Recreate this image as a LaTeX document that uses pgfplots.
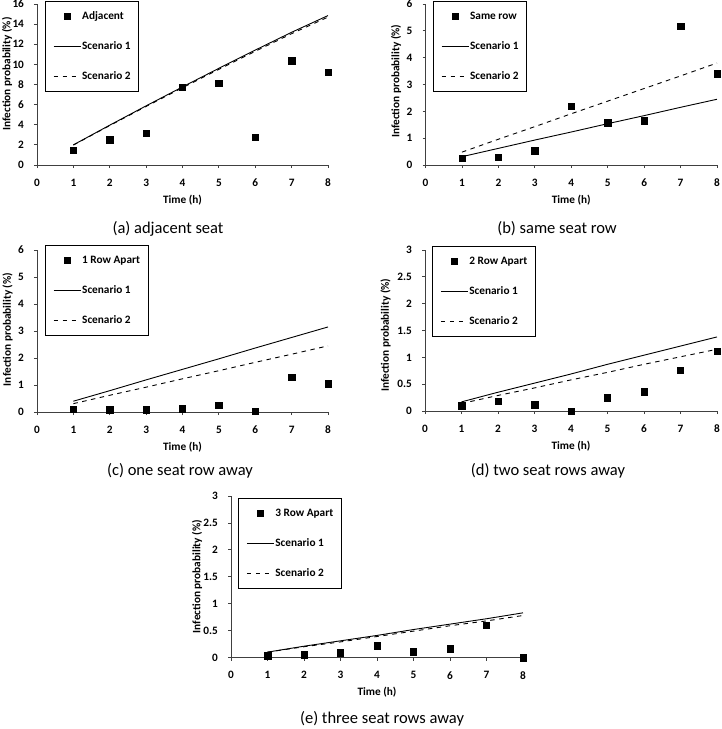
\documentclass[border=0pt]{standalone}
\usepackage{fontspec}
\setmainfont{Carlito}
\usepackage{pgfplots}
\usepackage{pgfplotstable}
\pgfplotsset{compat=1.18}

% t = time (h), obs = observed, s1/s2 = scenario 1/2
\pgfplotstableread{
t obs s1 s2
1 1.45 2.00 1.98
2 2.50 3.96 3.92
3 3.15 5.88 5.82
4 7.75 7.76 7.68
5 8.15 9.61 9.51
6 2.75 11.42 11.30
7 10.35 13.19 13.05
8 9.25 14.85 14.70
}\adjacent
\pgfplotstableread{
t obs s1 s2
1 0.25 0.31 0.48
2 0.28 0.62 0.96
3 0.53 0.93 1.43
4 2.20 1.23 1.91
5 1.57 1.54 2.38
6 1.65 1.84 2.85
7 5.17 2.15 3.32
8 3.40 2.45 3.80
}\samerow
\pgfplotstableread{
t obs s1 s2
1 0.10 0.40 0.31
2 0.08 0.79 0.62
3 0.08 1.19 0.92
4 0.12 1.58 1.23
5 0.26 1.97 1.53
6 0.02 2.37 1.84
7 1.30 2.76 2.14
8 1.05 3.15 2.45
}\rowone
\pgfplotstableread{
t obs s1 s2
1 0.10 0.17 0.14
2 0.18 0.35 0.29
3 0.12 0.52 0.43
4 0.00 0.69 0.58
5 0.25 0.87 0.72
6 0.36 1.04 0.87
7 0.76 1.21 1.01
8 1.12 1.38 1.15
}\rowtwo
\pgfplotstableread{
t obs s1 s2
1 0.03 0.10 0.10
2 0.05 0.21 0.20
3 0.09 0.31 0.29
4 0.22 0.41 0.39
5 0.11 0.52 0.49
6 0.16 0.62 0.59
7 0.60 0.72 0.68
8 0.00 0.83 0.78
}\rowthree

\newcommand\lblfont{\fontsize{11.3}{13}\selectfont\bfseries}

\pgfplotsset{
  panel/.style={
    scale only axis, anchor=south west,
    xmin=0, xmax=8, ymin=0,
    xtick={0,...,8},
    axis x line*=bottom, axis y line*=left,
    axis line style={-, black!75, line width=0.8pt},
    tick align=outside, major tick length=3pt,
    tick style={black!75, line width=0.8pt},
    clip=false,
    /pgf/number format/assume math mode=true,
    tick label style={font=\lblfont},
    xticklabel style={yshift=-7.5pt},
    yticklabel style={xshift=-6.5pt},
    label style={font=\lblfont},
    xlabel={Time (h)},
    xlabel style={yshift=-1pt},
    ylabel={Infection probability (\%)},
    legend cell align=left,
    legend style={draw=black, line width=0.8pt, fill=white, anchor=north west,
      inner xsep=8pt, inner ysep=9.75pt, row sep=19.5pt,
      /tikz/column sep=1pt,
      nodes={inner sep=0pt, text height=8pt, text depth=2.5pt, font=\lblfont}},
  },
  ylab/.style 2 args={ylabel style={at={(axis description cs:#1,#2)}, anchor=center}},
  obs/.style={only marks, mark=square*, mark size=3.2pt, black,
    legend image code/.code={\path[draw=none] (0pt,0pt) -- (27pt,0pt);
      \draw[##1] plot coordinates {(13.5pt,0pt)};}},
  sc1/.style={no marks, black, line width=0.9pt,
    legend image code/.code={\draw[##1] (0pt,0pt) -- (27pt,0pt);}},
  sc2/.style={no marks, black, line width=0.9pt, dash pattern=on 4.5pt off 4.5pt,
    legend image code/.code={\draw[##1] (0pt,0pt) -- (27pt,0pt);}},
}

\begin{document}
\begin{tikzpicture}
\useasboundingbox (0pt,0pt) rectangle (721pt,-729pt);

% (a)
\begin{axis}[panel, at={(37pt,-165pt)}, width=291pt, height=161pt,
  ymax=16, ytick={0,2,...,16}, ylab={-30/291}{0.565},
  legend style={at={(0.027,1.019)}}]
\addplot[obs] table[x=t, y=obs] {\adjacent};
\addplot[sc1] table[x=t, y=s1] {\adjacent};
\addplot[sc2] table[x=t, y=s2] {\adjacent};
\legend{Adjacent, Scenario 1, Scenario 2}
\end{axis}

% (b)
\begin{axis}[panel, at={(425.5pt,-165pt)}, width=291.5pt, height=161pt,
  ymax=6, ytick={0,...,6}, ylab={-29.5/291.5}{0.52},
  legend style={at={(0.025,1.019)}}]
\addplot[obs] table[x=t, y=obs] {\samerow};
\addplot[sc1] table[x=t, y=s1] {\samerow};
\addplot[sc2] table[x=t, y=s2] {\samerow};
\legend{Same row, Scenario 1, Scenario 2}
\end{axis}

% (c)
\begin{axis}[panel, at={(37pt,-412pt)}, width=291pt, height=162pt,
  ymax=6, ytick={0,...,6}, ylab={-29.5/291}{0.51},
  legend style={at={(0.027,1.031)}}]
\addplot[obs] table[x=t, y=obs] {\rowone};
\addplot[sc1] table[x=t, y=s1] {\rowone};
\addplot[sc2] table[x=t, y=s2] {\rowone};
\legend{1 Row Apart, Scenario 1, Scenario 2}
\end{axis}

% (d)
\begin{axis}[panel, at={(425pt,-411pt)}, width=292pt, height=161pt,
  ymax=3, ytick={0,0.5,...,3}, ylab={-39.5/292}{0.47},
  legend style={at={(0.024,1.025)}}]
\addplot[obs] table[x=t, y=obs] {\rowtwo};
\addplot[sc1] table[x=t, y=s1] {\rowtwo};
\addplot[sc2] table[x=t, y=s2] {\rowtwo};
\legend{2 Row Apart, Scenario 1, Scenario 2}
\end{axis}

% (e)
\begin{axis}[panel, at={(231pt,-657.5pt)}, width=292pt, height=161.5pt,
  ymax=3, ytick={0,0.5,...,3}, ylab={-34/292}{0.5},
  legend style={at={(0.024,0.988)}}]
\addplot[obs] table[x=t, y=obs] {\rowthree};
\addplot[sc1] table[x=t, y=s1] {\rowthree};
\addplot[sc2] table[x=t, y=s2] {\rowthree};
\legend{3 Row Apart, Scenario 1, Scenario 2}
\end{axis}

\begin{scope}[every node/.style={font=\fontsize{16.5}{19}\selectfont}]
\node at (168pt,-229pt) {(a) adjacent seat};
\node at (557pt,-229pt) {(b) same seat row};
\node at (180pt,-471pt) {(c) one seat row away};
\node at (548pt,-471pt) {(d) two seat rows away};
\node at (382pt,-719pt) {(e) three seat rows away};
\end{scope}
\end{tikzpicture}
\end{document}
